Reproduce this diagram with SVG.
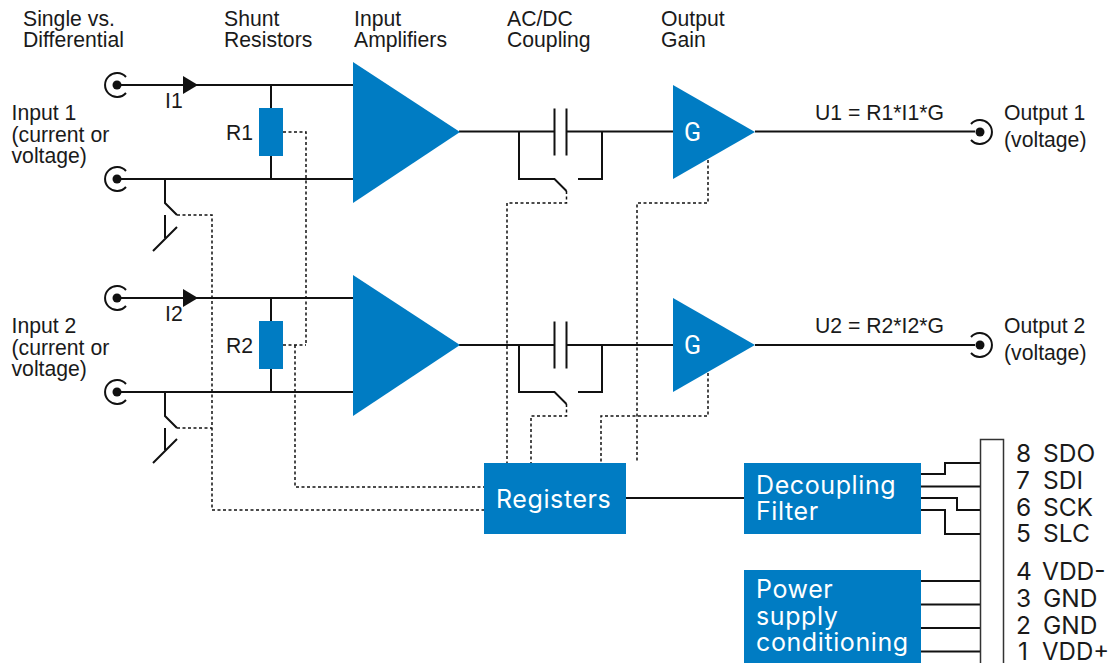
<svg xmlns="http://www.w3.org/2000/svg" width="1115" height="663" viewBox="0 0 1115 663">
<style>
.w{fill:none;stroke:#111;stroke-width:2}
.d{fill:none;stroke:#111;stroke-width:1.5;stroke-dasharray:3 2.5}
.b{fill:#007cc3}
.t{font-family:"Liberation Sans",Arial,sans-serif;font-size:21.200px;fill:#1a1a1a}
.m{font-family:"Inter","Noto Sans",sans-serif;font-size:25px;fill:#fff;letter-spacing:.6px}
.p{font-family:"Inter","Noto Sans",sans-serif;font-size:24.500px;fill:#1a1a1a}
</style>
<defs>
<g id="term"><path class="w" d="M9 -8A12 12 0 1 0 9 8"/><circle r="4.500" fill="#111"/></g>
</defs>
<g id="connectors">
<path class="w" d="M117 85H353M117 179H353M271 85V179M117 298H353M117 392H353M271 298V392"/>
<path d="M183 76L198 85L183 94Z" fill="#111"/><path d="M183 289L198 298L183 307Z" fill="#111"/>
<path class="w" d="M165 179V203L177 215M165 215V238M177 227L153 251"/>
<path class="w" d="M165 392V416L177 428M165 428V450M177 439L153 463"/>
<path class="w" d="M459 131.500H554.500M566.500 131.500H673M554.500 108.500V155.500M566.500 108.500V155.500M519 131.500V179H554.500L566.500 191M578 179H602V131.500M755 131.500H975"/>
<path class="w" d="M459 345H554.500M566.500 345H673M554.500 321.500V368.500M566.500 321.500V368.500M519 345V392H554.500L566.500 404M578 392H602V345M755 345H975"/>
<path class="d" d="M283 132H306V345M283 345H306M295 345V487H484"/>
<path class="d" d="M177 215H212V510H484M177 428H212"/>
<path class="d" d="M566.500 191V203H507V463M708 160V203H637V463M566.500 404V416H531V463M708 373V416H601V463"/>
<path class="w" d="M626 498H744"/>
<path class="w" d="M921 474H945V463H980M921 486.500H980M921 498H957V510H980M921 510H945V534H980M921 581H980M921 604.500H980M921 628H980M921 651.500H980"/>
</g>
<g id="in1a"><use href="#term" x="117" y="85"/></g>
<g id="in1b"><use href="#term" x="117" y="179"/></g>
<g id="in2a"><use href="#term" x="117" y="298"/></g>
<g id="in2b"><use href="#term" x="117" y="392"/></g>
<g id="out1"><use href="#term" transform="translate(980 132) scale(-1 1)"/></g>
<g id="out2"><use href="#term" transform="translate(980 345) scale(-1 1)"/></g>
<g id="r1"><rect class="b" x="259" y="108" width="24" height="48"/><text class="t" x="226" y="140">R1</text></g>
<g id="r2"><rect class="b" x="259" y="321" width="24" height="48"/><text class="t" x="226" y="353">R2</text></g>
<g id="amp1"><path class="b" d="M353 62L460 132L353 203Z"/></g>
<g id="amp2"><path class="b" d="M353 275L460 345L353 416Z"/></g>
<g id="g1"><path class="b" d="M673 85L755 132L673 179Z"/><text x="684" y="141" font-family="Roboto,sans-serif" font-size="25" fill="#fff">G</text></g>
<g id="g2"><path class="b" d="M673 298L755 345L673 392Z"/><text x="684" y="354" font-family="Roboto,sans-serif" font-size="25" fill="#fff">G</text></g>
<g id="registers"><rect class="b" x="484" y="463" width="142" height="71"/><text class="m" x="496" y="508">Registers</text></g>
<g id="decoupling"><rect class="b" x="744" y="463" width="177" height="71"/><text class="m" x="756" y="494">Decoupling</text><text class="m" x="756" y="520">Filter</text></g>
<g id="power"><rect class="b" x="744" y="570" width="177" height="93"/><text class="m" x="756" y="598">Power</text><text class="m" x="756" y="625">supply</text><text class="m" x="756" y="651">conditioning</text></g>
<g id="header"><rect x="980.500" y="439.500" width="23" height="225" fill="#fff" stroke="#333" stroke-width="1.500"/>
<text class="p" x="1016" y="462">8</text><text class="p" x="1043" y="462">SDO</text>
<text class="p" x="1016" y="489">7</text><text class="p" x="1043" y="489">SDI</text>
<text class="p" x="1016" y="516">6</text><text class="p" x="1043" y="516">SCK</text>
<text class="p" x="1016" y="542">5</text><text class="p" x="1043" y="542">SLC</text>
<text class="p" x="1016" y="580">4</text><text class="p" x="1042" y="580">VDD-</text>
<text class="p" x="1016" y="607">3</text><text class="p" x="1043" y="607">GND</text>
<text class="p" x="1016" y="634">2</text><text class="p" x="1043" y="634">GND</text>
<text class="p" x="1018" y="660">1</text><text class="p" x="1042" y="660" font-size="24" style="font-size:24px">VDD+</text></g>
<g id="labels">
<text class="t" x="23" y="26">Single vs.</text><text class="t" x="23" y="47">Differential</text>
<text class="t" x="224" y="26">Shunt</text><text class="t" x="224" y="47">Resistors</text>
<text class="t" x="354" y="26">Input</text><text class="t" x="354" y="47">Amplifiers</text>
<text class="t" x="507" y="26">AC/DC</text><text class="t" x="507" y="47">Coupling</text>
<text class="t" x="661" y="26">Output</text><text class="t" x="661" y="47">Gain</text>
<text class="t" x="11.500" y="120">Input 1</text><text class="t" x="11.500" y="142">(current or</text><text class="t" x="11.500" y="163">voltage)</text>
<text class="t" x="11.500" y="333">Input 2</text><text class="t" x="11.500" y="355">(current or</text><text class="t" x="11.500" y="376">voltage)</text>
<text class="t" x="165" y="108">I1</text><text class="t" x="165" y="321">I2</text>
<text class="t" x="815" y="120">U1 = R1*I1*G</text><text class="t" x="815" y="333">U2 = R2*I2*G</text>
<text class="t" x="1004" y="120">Output 1</text><text class="t" x="1004" y="147">(voltage)</text>
<text class="t" x="1004" y="333">Output 2</text><text class="t" x="1004" y="360">(voltage)</text>
</g>
</svg>
